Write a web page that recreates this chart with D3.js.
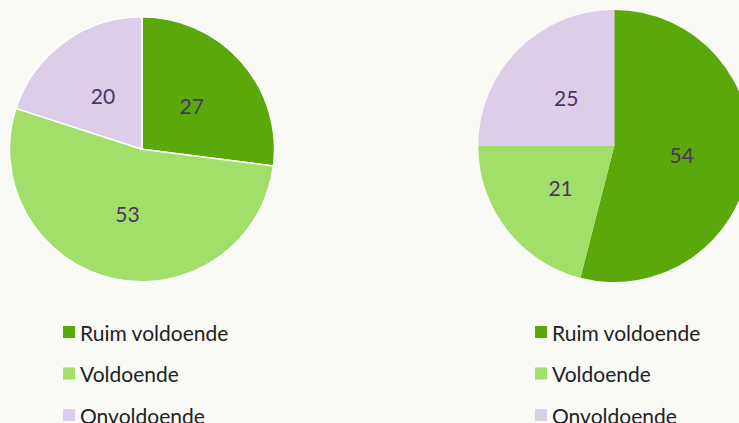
<!DOCTYPE html>
<html><head><meta charset="utf-8">
<script src="https://cdn.jsdelivr.net/npm/d3@7"></script>
<style>
html,body{margin:0;padding:0;background:#f9f9f5;}
svg{display:block;}
</style></head>
<body>
<svg id="chart" width="739" height="423"></svg>
<script>
const categories = ["Ruim voldoende", "Voldoende", "Onvoldoende"];
const colors = ["#5aa80a", "#a2de6a", "#dccde8"];
const valuesLeft = [27, 53, 20];
const valuesRight = [54, 21, 25];

const svg = d3.select("#chart");
svg.append("rect").attr("width", 739).attr("height", 423).attr("fill", "#f9f9f5");

const color = d3.scaleOrdinal().domain(categories).range(colors);
const pie = d3.pie().sort(null).value(d => d.v);

function drawPie(values, cx, cy, r, strokeW, legendX) {
  const data = categories.map((c, i) => ({c, v: values[i]}));
  const arcs = pie(data);
  const g = svg.append("g").attr("transform", `translate(${cx},${cy})`);
  const arc = d3.arc().innerRadius(0).outerRadius(r);
  const labelArc = d3.arc().innerRadius(r * 0.5).outerRadius(r * 0.5);
  g.selectAll("path").data(arcs).join("path")
    .attr("d", arc)
    .attr("fill", d => color(d.data.c))
    .attr("stroke", strokeW > 0 ? "#ffffff" : "none")
    .attr("stroke-width", strokeW)
    .attr("stroke-linejoin", "round");
  g.selectAll("text").data(arcs).join("text")
    .attr("transform", d => `translate(${labelArc.centroid(d)})`)
    .attr("text-anchor", "middle")
    .attr("dominant-baseline", "central")
    .attr("font-family", "Lato, sans-serif")
    .attr("font-size", 21)
    .attr("fill", "#4b3662")
    .text(d => d.data.v);

  const y = d3.scalePoint().domain(categories).range([332, 415]);
  const lg = svg.append("g");
  const rows = lg.selectAll("g").data(categories).join("g")
    .attr("transform", c => `translate(${legendX},${y(c)})`);
  rows.append("rect").attr("x", 0).attr("y", -6).attr("width", 12).attr("height", 12)
    .attr("fill", c => color(c));
  rows.append("text").attr("x", 17).attr("y", 0)
    .attr("dominant-baseline", "central")
    .attr("font-family", "Lato, sans-serif")
    .attr("font-size", 21)
    .attr("fill", "#222222")
    .text(c => c);
}

drawPie(valuesLeft, 142, 149.3, 132.5, 1.5, 63);
drawPie(valuesRight, 614.3, 146, 136, 0, 535);
</script>
</body></html>
